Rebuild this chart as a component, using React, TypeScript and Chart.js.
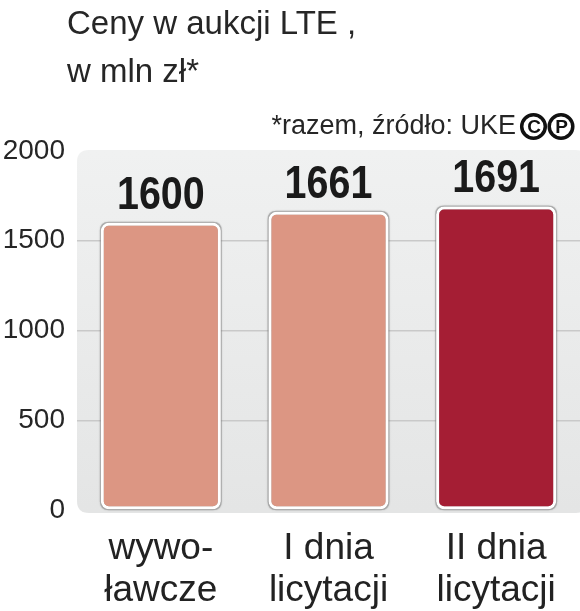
import React, { useEffect, useRef } from "react";
import { Chart, registerables } from "chart.js";

Chart.register(...registerables);

const categories: string[][] = [
  ["wywo-", "ławcze"],
  ["I dnia", "licytacji"],
  ["II dnia", "licytacji"],
];
const values: number[] = [1600, 1661, 1691];
const barColors: string[] = ["#DC9683", "#DC9683", "#A51E34"];
const yTicks: number[] = [0, 500, 1000, 1500, 2000];
const titleLines: string[] = ["Ceny w aukcji LTE ,", "w mln zł*"];
const noteText = "*razem, źródło: UKE";

const SANS = '"Liberation Sans", Arial, sans-serif';

function roundRect(ctx: CanvasRenderingContext2D, x: number, y: number, w: number, h: number, r: number) {
  ctx.beginPath();
  ctx.moveTo(x + r, y);
  ctx.lineTo(x + w - r, y);
  ctx.quadraticCurveTo(x + w, y, x + w, y + r);
  ctx.lineTo(x + w, y + h - r);
  ctx.quadraticCurveTo(x + w, y + h, x + w - r, y + h);
  ctx.lineTo(x + r, y + h);
  ctx.quadraticCurveTo(x, y + h, x, y + h - r);
  ctx.lineTo(x, y + r);
  ctx.quadraticCurveTo(x, y, x + r, y);
  ctx.closePath();
}

const decorPlugin = {
  id: "decor",
  beforeDraw(chart: any) {
    const { ctx, chartArea } = chart;
    const { left, right, top, bottom } = chartArea;
    ctx.save();
    const g = ctx.createLinearGradient(0, top, 0, bottom);
    g.addColorStop(0, "#f0f1f1");
    g.addColorStop(1, "#e4e5e5");
    ctx.fillStyle = g;
    roundRect(ctx, left, top - 1, right - left + 8, bottom - top + 4, 12);
    ctx.fill();
    ctx.restore();
  },
  beforeDatasetsDraw(chart: any) {
    const { ctx } = chart;
    const meta = chart.getDatasetMeta(0);
    ctx.save();
    meta.data.forEach((bar: any) => {
      const { x, y, base, width } = bar.getProps(["x", "y", "base", "width"], true);
      ctx.fillStyle = "rgba(140,140,140,0.55)";
      ctx.shadowColor = "rgba(0,0,0,0.25)";
      ctx.shadowBlur = 2;
      roundRect(ctx, x - width / 2 - 1, y - 1, width + 2, base - y + 2, 9);
      ctx.fill();
    });
    ctx.restore();
  },
  afterDatasetsDraw(chart: any) {
    const { ctx } = chart;
    const meta = chart.getDatasetMeta(0);
    ctx.save();
    ctx.fillStyle = "#1a1a1a";
    ctx.textAlign = "center";
    ctx.textBaseline = "alphabetic";
    ctx.font = `bold 47px ${SANS}`;
    meta.data.forEach((bar: any, i: number) => {
      ctx.save();
      ctx.translate(bar.x, bar.y - 14);
      ctx.scale(0.84, 1);
      ctx.fillText(String(values[i]), 0, 0);
      ctx.restore();
    });
    ctx.restore();
  },
  afterDraw(chart: any) {
    const { ctx } = chart;
    ctx.save();
    ctx.fillStyle = "#262626";
    ctx.textAlign = "left";
    ctx.textBaseline = "alphabetic";
    ctx.font = `33px ${SANS}`;
    ctx.fillText(titleLines[0], 67, 34);
    ctx.fillText(titleLines[1], 67, 82);
    ctx.font = `27px ${SANS}`;
    ctx.textAlign = "right";
    ctx.fillText(noteText, 516, 134);
    const marks = [
      { cx: 533.5, letter: "C" },
      { cx: 561, letter: "P" },
    ];
    marks.forEach((m) => {
      ctx.beginPath();
      ctx.lineWidth = 3.5;
      ctx.strokeStyle = "#111";
      ctx.arc(m.cx, 126.5, 11.8, 0, Math.PI * 2);
      ctx.stroke();
      ctx.fillStyle = "#111";
      ctx.font = `bold 19px ${SANS}`;
      ctx.textAlign = "center";
      ctx.textBaseline = "middle";
      ctx.fillText(m.letter, m.cx + 0.5, 127.5);
    });
    ctx.restore();
  },
};

export default function App() {
  const ref = useRef<HTMLCanvasElement>(null);
  useEffect(() => {
    if (!ref.current) return;
    const chart = new Chart(ref.current, {
      type: "bar",
      data: {
        labels: categories,
        datasets: [
          {
            data: values,
            backgroundColor: barColors,
            borderColor: "#ffffff",
            borderWidth: 3,
            borderRadius: 8,
            borderSkipped: false,
            barPercentage: 0.716,
            categoryPercentage: 1,
          },
        ],
      },
      options: {
        responsive: false,
        maintainAspectRatio: false,
        animation: false,
        layout: { padding: { top: 151, right: 0, left: 0, bottom: 0 } },
        plugins: {
          legend: { display: false },
          tooltip: { enabled: false },
          title: { display: false },
        },
        scales: {
          x: {
            afterFit: (s: any) => {
              s.height = 101;
            },
            grid: { display: false, drawTicks: false },
            border: { display: false },
            ticks: {
              color: "#222",
              font: { family: SANS, size: 37, lineHeight: 1.135 },
              padding: 18,
              maxRotation: 0,
              autoSkip: false,
            },
          },
          y: {
            min: 0,
            max: 2000,
            afterFit: (s: any) => {
              s.width = 77;
            },
            afterBuildTicks: (s: any) => {
              s.ticks = yTicks.map((v) => ({ value: v }));
            },
            grid: {
              color: (c: any) => (c.tick && (c.tick.value === 0 || c.tick.value === 2000) ? "rgba(0,0,0,0)" : "#c9c9c9"),
              lineWidth: 1.5,
              drawTicks: false,
            },
            border: { display: false },
            ticks: {
              color: "#262626",
              font: { family: SANS, size: 28 },
              padding: 12,
              callback: (v: any) => String(v),
            },
          },
        },
      },
      plugins: [decorPlugin],
    });
    return () => chart.destroy();
  }, []);
  return (
    <div style={{ position: "fixed", left: 0, top: 0, width: 580, height: 611, background: "#fff" }}>
      <canvas ref={ref} width={580} height={611} style={{ width: 580, height: 611, display: "block" }} />
    </div>
  );
}
